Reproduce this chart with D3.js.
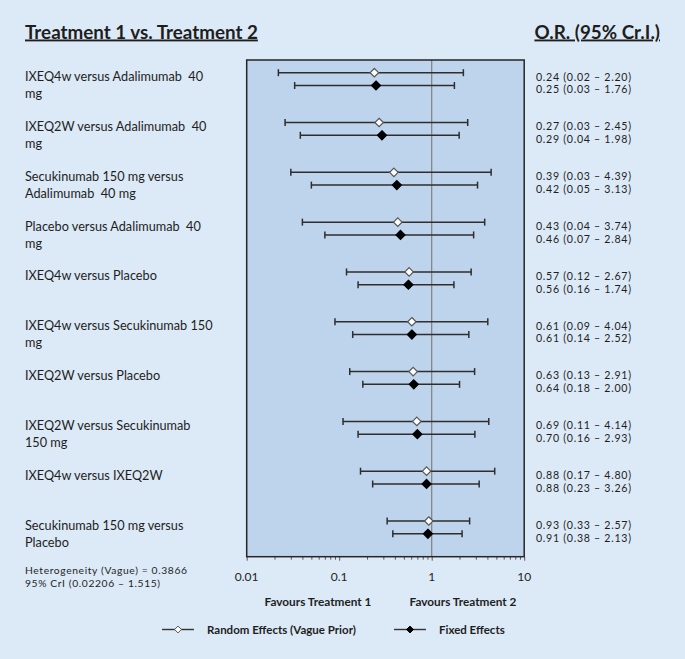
<!DOCTYPE html>
<html><head><meta charset="utf-8">
<script src="https://cdn.jsdelivr.net/npm/d3@7"></script>
<style>
html,body{margin:0;padding:0;background:#dce9f6;}
svg{display:block;font-family:Lato,"Open Sans",sans-serif;}
</style></head><body>
<svg id="chart" width="685" height="659"></svg>
<script>
const categories = [
  ["IXEQ4w versus Adalimumab  40", "mg"],
  ["IXEQ2W versus Adalimumab  40", "mg"],
  ["Secukinumab 150 mg versus", "Adalimumab  40 mg"],
  ["Placebo versus Adalimumab  40", "mg"],
  ["IXEQ4w versus Placebo"],
  ["IXEQ4w versus Secukinumab 150", "mg"],
  ["IXEQ2W versus Placebo"],
  ["IXEQ2W versus Secukinumab", "150 mg"],
  ["IXEQ4w versus IXEQ2W"],
  ["Secukinumab 150 mg versus", "Placebo"]
];
const randomOR  = [0.24, 0.27, 0.39, 0.43, 0.57, 0.61, 0.63, 0.69, 0.88, 0.93];
const randomLow = [0.022, 0.026, 0.03, 0.04, 0.12, 0.09, 0.13, 0.11, 0.17, 0.33];
const randomHigh= [2.20, 2.45, 4.39, 3.74, 2.67, 4.04, 2.91, 4.14, 4.80, 2.57];
const fixedOR   = [0.25, 0.29, 0.42, 0.46, 0.56, 0.61, 0.64, 0.70, 0.88, 0.91];
const fixedLow  = [0.033, 0.038, 0.05, 0.07, 0.16, 0.14, 0.18, 0.16, 0.23, 0.38];
const fixedHigh = [1.76, 1.98, 3.13, 2.84, 1.74, 2.52, 2.00, 2.93, 3.26, 2.13];
const tickValues = [0.01, 0.1, 1, 10];
const tickLabels = ["0.01", "0.1", "1", "10"];
const heterogeneity = ["Heterogeneity (Vague) = 0.3866", "95% CrI (0.02206 \u2013 1.515)"];
const legendLabels = ["Random Effects (Vague Prior)", "Fixed Effects"];

const svg = d3.select("#chart");
const textColor = "#1e1e1e";
const box = {left: 246.7, right: 524.2, top: 60, bottom: 556.7};
const x = d3.scaleLog().domain([0.01, 10]).range([box.left, box.right]);
const y = d3.scalePoint().domain(d3.range(categories.length)).range([72.7, 521]);
const dy = 12.8;

// plot area
svg.append("rect").attr("x", box.left).attr("y", box.top)
  .attr("width", box.right - box.left).attr("height", box.bottom - box.top)
  .attr("fill", "#bed4ec");

// reference line at 1
svg.append("line").attr("x1", x(1)).attr("x2", x(1)).attr("y1", box.top).attr("y2", box.bottom)
  .attr("stroke", "#7f7f7f").attr("stroke-width", 1.2);

// axis
const axis = d3.axisBottom(x).tickValues(d3.range(0,3).flatMap(e => d3.range(1,10).map(m => m*Math.pow(10,e-2))).concat([10]))
  .tickSize(3).tickFormat("");
const ag = svg.append("g").attr("transform", `translate(0,${box.bottom})`).call(axis);
ag.select(".domain").remove();
ag.selectAll(".tick line").attr("stroke", "#595959").attr("stroke-width", 1)
  .attr("y2", d => tickValues.includes(d) ? 4 : 3);
svg.append("g").selectAll("text").data(tickValues).join("text")
  .attr("x", d => x(d)).attr("y", 581).attr("text-anchor", "middle")
  .attr("font-size", 12).attr("fill", textColor).text((d,i) => tickLabels[i]);

// border
svg.append("rect").attr("x", box.left).attr("y", box.top)
  .attr("width", box.right - box.left).attr("height", box.bottom - box.top)
  .attr("fill", "none").attr("stroke", "#262626").attr("stroke-width", 1.5);

// error bars
function drawSeries(or, lo, hi, off, filled) {
  const g = svg.append("g");
  const rows = d3.range(categories.length);
  g.selectAll("line.ci").data(rows).join("line")
    .attr("x1", i => x(lo[i])).attr("x2", i => x(hi[i]))
    .attr("y1", i => y(i) + off).attr("y2", i => y(i) + off)
    .attr("stroke", "#2e2e2e").attr("stroke-width", 1.5);
  g.selectAll("line.cl").data(rows).join("line")
    .attr("x1", i => x(lo[i])).attr("x2", i => x(lo[i]))
    .attr("y1", i => y(i) + off - 3.5).attr("y2", i => y(i) + off + 3.5)
    .attr("stroke", "#2e2e2e").attr("stroke-width", 1.5);
  g.selectAll("line.ch").data(rows).join("line")
    .attr("x1", i => x(hi[i])).attr("x2", i => x(hi[i]))
    .attr("y1", i => y(i) + off - 3.5).attr("y2", i => y(i) + off + 3.5)
    .attr("stroke", "#2e2e2e").attr("stroke-width", 1.5);
  g.selectAll("path").data(rows).join("path")
    .attr("d", d3.symbol().type(d3.symbolDiamond2).size(filled ? 52 : 46))
    .attr("transform", i => `translate(${x(or[i])},${y(i) + off})`)
    .attr("fill", filled ? "#000" : "#fff")
    .attr("stroke", filled ? "#000" : "#555").attr("stroke-width", 1.2);
}
drawSeries(randomOR, randomLow, randomHigh, 0, false);
drawSeries(fixedOR, fixedLow, fixedHigh, dy, true);

// left labels
const lab = svg.append("g").attr("font-size", 12.7).attr("fill", textColor);
categories.forEach((lines, i) => {
  lines.forEach((t, j) => {
    lab.append("text").attr("x", 25).attr("y", y(i) + 8.5 + j * 17).text(t).style("white-space", "pre");
  });
});

// right labels
const fmt = d3.format(".2f");
const rl = svg.append("g").attr("font-size", 10.6).attr("letter-spacing", "0.72px").attr("fill", textColor);
d3.range(categories.length).forEach(i => {
  rl.append("text").attr("x", 536).attr("y", y(i) + 7.8)
    .text(`${fmt(randomOR[i])} (${fmt(randomLow[i])} \u2013 ${fmt(randomHigh[i])})`);
  rl.append("text").attr("x", 536).attr("y", y(i) + dy + 7.8)
    .text(`${fmt(fixedOR[i])} (${fmt(fixedLow[i])} \u2013 ${fmt(fixedHigh[i])})`);
});

// titles
svg.append("text").attr("x", 25).attr("y", 38.5).attr("font-size", 18.8).attr("font-weight", "bold")
  .attr("fill", textColor).attr("text-decoration", "underline").text("Treatment 1 vs. Treatment 2");
svg.append("text").attr("x", 660).attr("y", 38.5).attr("text-anchor", "end").attr("font-size", 18.8).attr("font-weight", "bold")
  .attr("fill", textColor).attr("text-decoration", "underline").text("O.R. (95% Cr.I.)");

// heterogeneity
heterogeneity.forEach((t, j) => {
  svg.append("text").attr("x", 25).attr("y", 574.3 + j * 12.6).attr("font-size", 10.3)
    .attr("letter-spacing", "0.62px").attr("fill", textColor).text(t);
});

// favours
svg.append("text").attr("x", 318).attr("y", 606).attr("text-anchor", "middle").attr("font-size", 11.8)
  .attr("font-weight", "bold").attr("fill", textColor).text("Favours Treatment 1");
svg.append("text").attr("x", 463).attr("y", 606).attr("text-anchor", "middle").attr("font-size", 11.8)
  .attr("font-weight", "bold").attr("fill", textColor).text("Favours Treatment 2");

// legend
const leg = [{x0: 162, filled: false}, {x0: 394, filled: true}];
leg.forEach((d, i) => {
  const g = svg.append("g");
  g.append("line").attr("x1", d.x0).attr("x2", d.x0 + 32).attr("y1", 629.5).attr("y2", 629.5)
    .attr("stroke", "#333").attr("stroke-width", 1.4);
  g.append("path").attr("d", d3.symbol().type(d3.symbolDiamond2).size(30))
    .attr("transform", `translate(${d.x0 + 16},629.5)`)
    .attr("fill", d.filled ? "#000" : "#fff").attr("stroke", d.filled ? "#000" : "#555");
  g.append("text").attr("x", d.x0 + 45).attr("y", 633.5).attr("font-size", 11.5).attr("font-weight", "bold")
    .attr("fill", textColor).text(legendLabels[i]);
});
</script>
</body></html>
